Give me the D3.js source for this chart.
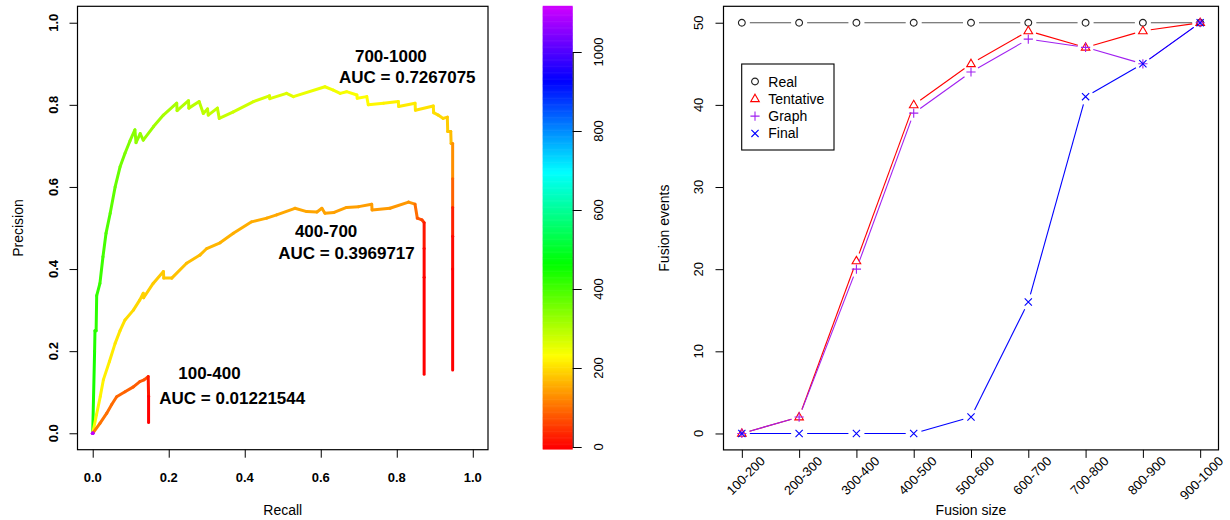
<!DOCTYPE html>
<html>
<head>
<meta charset="utf-8">
<script src="https://cdn.jsdelivr.net/npm/d3@7/dist/d3.min.js"></script>
<style>
  body { margin: 0; background: #fff; }
  svg { display: block; font-family: "Liberation Sans", Arial, Helvetica, sans-serif; }
</style>
</head>
<body>
<svg id="chart" width="1230" height="520"></svg>
<script>
// ---- left panel: precision / recall curves, coloured by cutoff ----
const recall700 = [0, 0.005, 0.006, 0.009, 0.0105, 0.019, 0.027, 0.035, 0.046, 0.059,
  0.072, 0.085, 0.098, 0.111, 0.114, 0.125, 0.133, 0.16, 0.186, 0.221,
  0.222, 0.252, 0.253, 0.28, 0.291, 0.302, 0.304, 0.328, 0.333, 0.37,
  0.423, 0.465, 0.466, 0.51, 0.528, 0.611, 0.633, 0.651, 0.668, 0.695,
  0.696, 0.721, 0.725, 0.765, 0.804, 0.805, 0.848, 0.849, 0.896, 0.897,
  0.909, 0.922, 0.933, 0.934, 0.942, 0.943, 0.947, 0.947, 0.947, 0.947, 0.947, 0.947];
const precision700 = [0, 0.20, 0.25, 0.25, 0.335, 0.365, 0.43, 0.487, 0.536, 0.60,
  0.649, 0.682, 0.712, 0.739, 0.708, 0.73, 0.714, 0.747, 0.775, 0.804,
  0.786, 0.81, 0.792, 0.808, 0.779, 0.79, 0.775, 0.792, 0.767, 0.783,
  0.808, 0.822, 0.815, 0.828, 0.82, 0.844, 0.836, 0.828, 0.832, 0.824,
  0.816, 0.82, 0.80, 0.804, 0.808, 0.796, 0.804, 0.787, 0.797, 0.781,
  0.775, 0.767, 0.77, 0.735, 0.735, 0.706, 0.706, 0.62, 0.55, 0.48, 0.40, 0.154];
const cutoff700 = [1100, 445, 436, 430, 424, 418, 410, 402, 392, 380,
  370, 360, 350, 340, 338, 334, 331, 325, 318, 310,
  309, 302, 301, 296, 294, 292, 291, 288, 287, 283,
  276, 270, 269, 264, 262, 250, 246, 243, 240, 236,
  235, 232, 231, 226, 220, 219, 214, 213, 206, 205,
  202, 198, 194, 186, 182, 172, 168, 130, 90, 30, 8, 0];

const recall400 = [0, 0.01, 0.02, 0.028, 0.044, 0.059, 0.072, 0.085, 0.107, 0.124,
  0.133, 0.134, 0.159, 0.186, 0.187, 0.208, 0.247, 0.282, 0.30, 0.335,
  0.37, 0.418, 0.458, 0.484, 0.532, 0.563, 0.59, 0.603, 0.611, 0.635,
  0.668, 0.70, 0.734, 0.735, 0.782, 0.831, 0.848, 0.854, 0.866, 0.872,
  0.872, 0.872, 0.872];
const precision400 = [0, 0.045, 0.09, 0.13, 0.175, 0.219, 0.25, 0.276, 0.30, 0.325,
  0.341, 0.33, 0.365, 0.394, 0.378, 0.378, 0.414, 0.434, 0.45, 0.464,
  0.487, 0.515, 0.524, 0.532, 0.548, 0.54, 0.539, 0.548, 0.536, 0.538,
  0.55, 0.552, 0.558, 0.544, 0.548, 0.563, 0.558, 0.524, 0.52, 0.513,
  0.45, 0.38, 0.144];
const cutoff400 = [1100, 226, 224, 222, 218, 214, 210, 206, 200, 196,
  193, 192, 188, 184, 183, 181, 176, 172, 170, 166,
  162, 158, 156, 154, 152, 151, 150, 149, 148, 147,
  146, 145, 143, 142, 140, 137, 135, 100, 80, 60,
  20, 5, 0];

const recall100 = [0, 0.019, 0.037, 0.05, 0.063, 0.085, 0.107, 0.124, 0.135, 0.146, 0.147, 0.147];
const precision100 = [0, 0.024, 0.049, 0.07, 0.089, 0.101, 0.113, 0.126, 0.13, 0.138, 0.09, 0.026];
const cutoff100 = [1100, 110, 104, 100, 96, 92, 88, 84, 80, 76, 20, 0];

const curveLabels = ["700-1000", "400-700", "100-400"];
const aucValues = ["0.7267075", "0.3969717", "0.01221544"];
const prTicks = [0, 0.2, 0.4, 0.6, 0.8, 1.0];
const cutoffTicks = [0, 200, 400, 600, 800, 1000];

// ---- right panel: fusion events by fusion size ----
const fusionSizes = ["100-200", "200-300", "300-400", "400-500", "500-600",
  "600-700", "700-800", "800-900", "900-1000"];
const realEvents = [50, 50, 50, 50, 50, 50, 50, 50, 50];
const tentativeEvents = [0, 2, 21, 40, 45, 49, 47, 49, 50];
const graphEvents = [0, 2, 20, 39, 44, 48, 47, 45, 50];
const finalEvents = [0, 0, 0, 0, 2, 16, 41, 45, 50];
const eventTicks = [0, 10, 20, 30, 40, 50];

const svg = d3.select("#chart");

// cutoff -> rainbow colour (red .. magenta)
const hueScale = d3.scaleLinear().domain([0, 1160]).range([0, 300]);
function cutoffColor(v) {
  return d3.hsl(hueScale(v), 1, 0.5).toString();
}

// ================= left panel =================
const prX = d3.scaleLinear().domain([-0.04, 1.04]).range([77.5, 488]);
const prY = d3.scaleLinear().domain([-0.04, 1.04]).range([449.7, 6.3]);

const left = svg.append("g");

const curves = [
  { recall: recall700, precision: precision700, cutoff: cutoff700 },
  { recall: recall400, precision: precision400, cutoff: cutoff400 },
  { recall: recall100, precision: precision100, cutoff: cutoff100 },
];

curves.forEach(function (c) {
  const segs = d3.range(1, c.recall.length).map(function (i) {
    return { x0: c.recall[i - 1], y0: c.precision[i - 1], x1: c.recall[i], y1: c.precision[i], cut: c.cutoff[i] };
  });
  left.append("g")
    .selectAll("line")
    .data(segs)
    .enter()
    .append("line")
    .attr("x1", function (d) { return prX(d.x0); })
    .attr("y1", function (d) { return prY(d.y0); })
    .attr("x2", function (d) { return prX(d.x1); })
    .attr("y2", function (d) { return prY(d.y1); })
    .attr("stroke", function (d) { return cutoffColor(d.cut); })
    .attr("stroke-width", 3)
    .attr("stroke-linecap", "round");
});

// start dots
left.selectAll("circle.start")
  .data(curves)
  .enter()
  .append("circle")
  .attr("class", "start")
  .attr("cx", function (d) { return prX(d.recall[0]); })
  .attr("cy", function (d) { return prY(d.precision[0]); })
  .attr("r", 1.8)
  .attr("fill", function (d) { return cutoffColor(d.cutoff[0]); });

left.append("rect")
  .attr("x", prX.range()[0])
  .attr("y", prY.range()[1])
  .attr("width", prX.range()[1] - prX.range()[0])
  .attr("height", prY.range()[0] - prY.range()[1])
  .attr("fill", "none")
  .attr("stroke", "#000")
  .attr("stroke-width", 1.2);

const prXAxis = left.append("g")
  .attr("transform", "translate(0," + prY.range()[0] + ")")
  .call(d3.axisBottom(prX).tickValues(prTicks).tickSize(8).tickSizeOuter(0).tickFormat(""));
prXAxis.select(".domain").remove();
prXAxis.selectAll(".tick line").attr("stroke", "#000");

left.append("g")
  .selectAll("text")
  .data(prTicks)
  .enter()
  .append("text")
  .attr("x", function (d) { return prX(d); })
  .attr("y", 482)
  .attr("text-anchor", "middle")
  .style("font-size", "13px")
  .style("font-weight", "bold")
  .text(d3.format(".1f"));

const prYAxis = left.append("g")
  .attr("transform", "translate(" + prX.range()[0] + ",0)")
  .call(d3.axisLeft(prY).tickValues(prTicks).tickSize(8).tickSizeOuter(0).tickFormat(""));
prYAxis.select(".domain").remove();
prYAxis.selectAll(".tick line").attr("stroke", "#000");

left.append("g")
  .selectAll("text")
  .data(prTicks)
  .enter()
  .append("text")
  .attr("transform", function (d) { return "translate(58," + prY(d) + ") rotate(-90)"; })
  .attr("text-anchor", "middle")
  .style("font-size", "13px")
  .style("font-weight", "bold")
  .text(d3.format(".1f"));

left.append("text")
  .attr("x", (prX.range()[0] + prX.range()[1]) / 2)
  .attr("y", 515)
  .attr("text-anchor", "middle")
  .style("font-size", "14px")
  .text("Recall");

left.append("text")
  .attr("transform", "translate(23," + (prY.range()[0] + prY.range()[1]) / 2 + ") rotate(-90)")
  .attr("text-anchor", "middle")
  .style("font-size", "14px")
  .text("Precision");

// curve annotations (recall / precision coordinates of the text start)
const labelSpots = [
  { name: [0.690, 0.905], auc: [0.648, 0.853] },
  { name: [0.532, 0.478], auc: [0.488, 0.425] },
  { name: [0.225, 0.132], auc: [0.175, 0.072] },
];
labelSpots.forEach(function (s, i) {
  left.append("text")
    .attr("x", prX(s.name[0]))
    .attr("y", prY(s.name[1]))
    .style("font-size", "17px")
    .style("font-weight", "bold")
    .text(curveLabels[i]);
  left.append("text")
    .attr("x", prX(s.auc[0]))
    .attr("y", prY(s.auc[1]))
    .style("font-size", "17px")
    .style("font-weight", "bold")
    .text("AUC = " + aucValues[i]);
});

// ================= colour bar =================
const barY = d3.scaleLinear().domain([0, 1000]).range([447, 52]);
const barStep = 3;
const bar = svg.append("g");
bar.selectAll("rect")
  .data(d3.range(-5, 1117, barStep))
  .enter()
  .append("rect")
  .attr("x", 542.7)
  .attr("width", 30)
  .attr("y", function (d) { return barY(d + barStep); })
  .attr("height", function (d) { return barY(d) - barY(d + barStep) + 0.6; })
  .attr("fill", function (d) { return cutoffColor(d + barStep / 2); });

const barAxis = bar.append("g")
  .attr("transform", "translate(572.7,0)")
  .call(d3.axisRight(barY).tickValues(cutoffTicks).tickSize(9).tickSizeOuter(0).tickFormat(""));
barAxis.select(".domain").attr("stroke", "#000");
barAxis.selectAll(".tick line").attr("stroke", "#000");

bar.append("g")
  .selectAll("text")
  .data(cutoffTicks)
  .enter()
  .append("text")
  .attr("transform", function (d) { return "translate(603," + barY(d) + ") rotate(-90)"; })
  .attr("text-anchor", "middle")
  .style("font-size", "13px")
  .text(String);

// ================= right panel =================
const fx = d3.scalePoint().domain(fusionSizes).range([723.5, 1218.5]).padding(0.32);
const fy = d3.scaleLinear().domain([-2, 52]).range([449.9, 6.3]);

const right = svg.append("g");

right.append("rect")
  .attr("x", 723.5)
  .attr("y", fy.range()[1])
  .attr("width", 495)
  .attr("height", fy.range()[0] - fy.range()[1])
  .attr("fill", "none")
  .attr("stroke", "#000")
  .attr("stroke-width", 1.2);

const fxAxis = right.append("g")
  .attr("transform", "translate(0," + fy.range()[0] + ")")
  .call(d3.axisBottom(fx).tickSize(8).tickSizeOuter(0).tickFormat(""));
fxAxis.select(".domain").remove();
fxAxis.selectAll(".tick line").attr("stroke", "#000");

right.append("g")
  .selectAll("text")
  .data(fusionSizes)
  .enter()
  .append("text")
  .attr("transform", function (d) { return "translate(" + (fx(d) + 24) + ",462) rotate(-45)"; })
  .attr("text-anchor", "end")
  .style("font-size", "13px")
  .text(String);

const fyAxis = right.append("g")
  .attr("transform", "translate(723.5,0)")
  .call(d3.axisLeft(fy).tickValues(eventTicks).tickSize(8).tickSizeOuter(0).tickFormat(""));
fyAxis.select(".domain").remove();
fyAxis.selectAll(".tick line").attr("stroke", "#000");

right.append("g")
  .selectAll("text")
  .data(eventTicks)
  .enter()
  .append("text")
  .attr("transform", function (d) { return "translate(703," + fy(d) + ") rotate(-90)"; })
  .attr("text-anchor", "middle")
  .style("font-size", "13px")
  .text(String);

right.append("text")
  .attr("x", 971)
  .attr("y", 515)
  .attr("text-anchor", "middle")
  .style("font-size", "14px")
  .text("Fusion size");

right.append("text")
  .attr("transform", "translate(669," + (fy.range()[0] + fy.range()[1]) / 2 + ") rotate(-90)")
  .attr("text-anchor", "middle")
  .style("font-size", "14px")
  .text("Fusion events");

const symbolPaths = {
  circle: "M3.4,0A3.4,3.4 0 1,1 -3.4,0A3.4,3.4 0 1,1 3.4,0Z",
  triangle: "M0,-4.6L4.3,2.8L-4.3,2.8Z",
  plus: "M-4.6,0H4.6M0,-4.6V4.6",
  cross: "M-3.6,-3.6L3.6,3.6M-3.6,3.6L3.6,-3.6",
};

const series = [
  { name: "Real", values: realEvents, line: "#555555", point: "#222222", symbol: "circle" },
  { name: "Tentative", values: tentativeEvents, line: "#ff0000", point: "#ff0000", symbol: "triangle" },
  { name: "Graph", values: graphEvents, line: "#a020f0", point: "#a020f0", symbol: "plus" },
  { name: "Final", values: finalEvents, line: "#0000ff", point: "#0000ff", symbol: "cross" },
];

const gap = 8;
series.forEach(function (s) {
  const pts = s.values.map(function (v, i) { return [fx(fusionSizes[i]), fy(v)]; });
  const segs = [];
  for (let i = 1; i < pts.length; i++) {
    const dx = pts[i][0] - pts[i - 1][0];
    const dy = pts[i][1] - pts[i - 1][1];
    const len = Math.sqrt(dx * dx + dy * dy);
    if (len > 2 * gap) {
      const ux = dx / len, uy = dy / len;
      segs.push([pts[i - 1][0] + ux * gap, pts[i - 1][1] + uy * gap, pts[i][0] - ux * gap, pts[i][1] - uy * gap]);
    }
  }
  const g = right.append("g");
  g.selectAll("line")
    .data(segs)
    .enter()
    .append("line")
    .attr("x1", function (d) { return d[0]; })
    .attr("y1", function (d) { return d[1]; })
    .attr("x2", function (d) { return d[2]; })
    .attr("y2", function (d) { return d[3]; })
    .attr("stroke", s.line)
    .attr("stroke-width", 1.1);
  g.selectAll("path")
    .data(pts)
    .enter()
    .append("path")
    .attr("transform", function (d) { return "translate(" + d[0] + "," + d[1] + ")"; })
    .attr("d", symbolPaths[s.symbol])
    .attr("fill", "none")
    .attr("stroke", s.point)
    .attr("stroke-width", 1.1);
});

// legend
const legend = right.append("g").attr("transform", "translate(741.7,64)");
legend.append("rect")
  .attr("width", 92.3)
  .attr("height", 86)
  .attr("fill", "#fff")
  .attr("stroke", "#000")
  .attr("stroke-width", 1.1);
series.forEach(function (s, i) {
  const rowY = 17.5 + i * 17.3;
  legend.append("path")
    .attr("transform", "translate(13.3," + rowY + ")")
    .attr("d", symbolPaths[s.symbol])
    .attr("fill", "none")
    .attr("stroke", s.point)
    .attr("stroke-width", 1.1);
  legend.append("text")
    .attr("x", 26.6)
    .attr("y", rowY + 5)
    .style("font-size", "14px")
    .text(s.name);
});
</script>
</body>
</html>
